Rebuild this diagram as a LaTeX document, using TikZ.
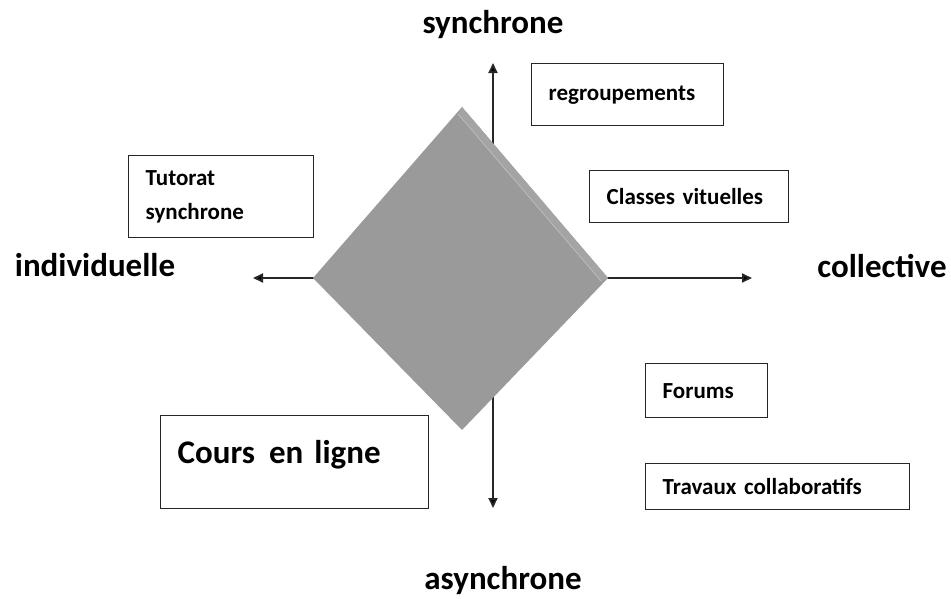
\documentclass[tikz,border=0pt]{standalone}
\usepackage{fontspec}
\setmainfont{Carlito}
\usepackage{tikz}
\usetikzlibrary{arrows.meta,positioning}

\definecolor{losange}{HTML}{9A9A9A}
\definecolor{biseau}{HTML}{A4A4A4}
\definecolor{trait}{HTML}{262626}

\tikzset{
  boite/.style={draw=trait, line width=1.4pt, anchor=north west, inner xsep=17pt,
                inner ysep=0pt, align=left, font=\bfseries\fontsize{23}{34}\selectfont},
  axe/.style={anchor=base, font=\bfseries\fontsize{33}{36}\selectfont}
}

\begin{document}
\begin{tikzpicture}[x=1pt,y=-1pt,>={Triangle[length=10pt,width=9pt]}]
   \useasboundingbox (0,0) rectangle (951,598);
   \coordinate (o)   at (493,278);
   \coordinate (up)  at (493,63);
   \coordinate (dn)  at (493,508);
   \coordinate (lt)  at (253,278);
   \coordinate (rt)  at (752,278);

   \path[->, draw=trait, line width=1.8pt]
    (o) edge (up)
        edge (dn)
        edge (lt)
        edge (rt);

   \fill[losange] (462,107) -- (608,278) -- (462,430) -- (313,278) -- cycle;
   \fill[biseau]  (462,107) -- (608,278) -- (601,281) -- (458,114) -- cycle;
   \draw[white!40!losange, line width=0.6pt] (458,114) -- (601,281);

   \node[axe] (sync)  at (493,33)  {synchrone};
   \node[axe] (async) at (503,589) {asynchrone};
   \node[axe] (indiv) at (95,276)  {individuelle};
   \node[axe] (coll)  at (882,277) {collective};

   \node[boite, text width=158pt, minimum height=62pt] (regr)  at (531,63)  {regroupements};
   \node[boite, text width=165pt, minimum height=52pt] (class) at (589,170) {Classes vituelles};
   \node[boite, text width=151pt, minimum height=82pt] (tut)   at (128,155) {Tutorat\\synchrone};
   \node[boite, text width=88pt,  minimum height=54pt] (forum) at (645,363) {Forums};
   \node[boite, text width=230pt, minimum height=46pt] (trav)  at (645,463) {Travaux collaboratifs};
   \node[boite, text width=234pt, minimum height=93pt, text depth=20pt,
         font=\bfseries\fontsize{33}{36}\selectfont] (cours) at (160,415) {Cours\hspace{14pt}en ligne};
\end{tikzpicture}
\end{document}
